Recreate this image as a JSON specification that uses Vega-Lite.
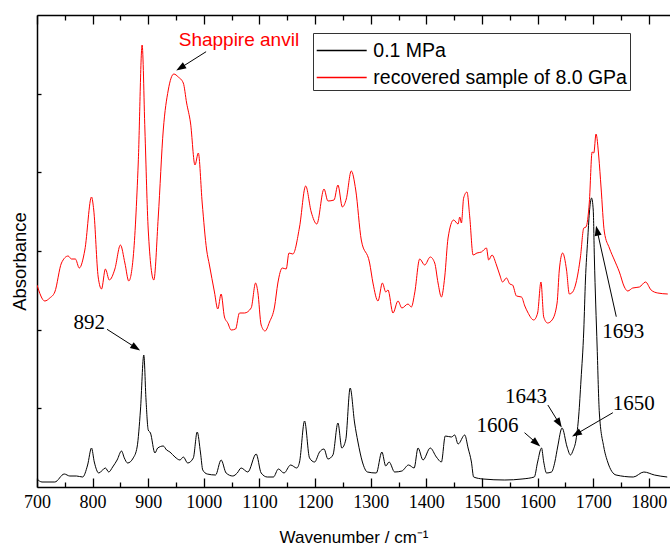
{
  "$schema": "https://vega.github.io/schema/vega-lite/v6.json",
  "width": 633,
  "height": 472,
  "autosize": {"type": "none"},
  "padding": {"left": 37, "top": 15, "right": 0, "bottom": 59},
  "background": "white",
  "config": {
    "view": {"stroke": null},
    "axis": {"grid": false, "domainColor": "black", "tickColor": "black", "domainWidth": 1.5, "tickWidth": 1.3}
  },
  "datasets": {
    "spectra": [
      {"series": "0.1 MPa", "wn": 700, "absorbance": 0.08},
      {"series": "0.1 MPa", "wn": 709, "absorbance": 0.05},
      {"series": "0.1 MPa", "wn": 732, "absorbance": 0.05},
      {"series": "0.1 MPa", "wn": 749, "absorbance": 0.13},
      {"series": "0.1 MPa", "wn": 759, "absorbance": 0.11},
      {"series": "0.1 MPa", "wn": 771, "absorbance": 0.11},
      {"series": "0.1 MPa", "wn": 782, "absorbance": 0.10},
      {"series": "0.1 MPa", "wn": 791, "absorbance": 0.22},
      {"series": "0.1 MPa", "wn": 798, "absorbance": 0.39},
      {"series": "0.1 MPa", "wn": 803, "absorbance": 0.25},
      {"series": "0.1 MPa", "wn": 811, "absorbance": 0.14},
      {"series": "0.1 MPa", "wn": 823, "absorbance": 0.19},
      {"series": "0.1 MPa", "wn": 829, "absorbance": 0.15},
      {"series": "0.1 MPa", "wn": 836, "absorbance": 0.20},
      {"series": "0.1 MPa", "wn": 844, "absorbance": 0.27},
      {"series": "0.1 MPa", "wn": 852, "absorbance": 0.36},
      {"series": "0.1 MPa", "wn": 857, "absorbance": 0.29},
      {"series": "0.1 MPa", "wn": 863, "absorbance": 0.24},
      {"series": "0.1 MPa", "wn": 873, "absorbance": 0.29},
      {"series": "0.1 MPa", "wn": 880, "absorbance": 0.40},
      {"series": "0.1 MPa", "wn": 886, "absorbance": 0.77},
      {"series": "0.1 MPa", "wn": 892, "absorbance": 1.32},
      {"series": "0.1 MPa", "wn": 896, "absorbance": 0.87},
      {"series": "0.1 MPa", "wn": 900, "absorbance": 0.57},
      {"series": "0.1 MPa", "wn": 904, "absorbance": 0.54},
      {"series": "0.1 MPa", "wn": 912, "absorbance": 0.34},
      {"series": "0.1 MPa", "wn": 917, "absorbance": 0.39},
      {"series": "0.1 MPa", "wn": 927, "absorbance": 0.41},
      {"series": "0.1 MPa", "wn": 933, "absorbance": 0.37},
      {"series": "0.1 MPa", "wn": 939, "absorbance": 0.35},
      {"series": "0.1 MPa", "wn": 948, "absorbance": 0.30},
      {"series": "0.1 MPa", "wn": 957, "absorbance": 0.27},
      {"series": "0.1 MPa", "wn": 963, "absorbance": 0.30},
      {"series": "0.1 MPa", "wn": 971, "absorbance": 0.24},
      {"series": "0.1 MPa", "wn": 981, "absorbance": 0.29},
      {"series": "0.1 MPa", "wn": 988, "absorbance": 0.55},
      {"series": "0.1 MPa", "wn": 994, "absorbance": 0.34},
      {"series": "0.1 MPa", "wn": 998, "absorbance": 0.17},
      {"series": "0.1 MPa", "wn": 1006, "absorbance": 0.13},
      {"series": "0.1 MPa", "wn": 1021, "absorbance": 0.12},
      {"series": "0.1 MPa", "wn": 1031, "absorbance": 0.27},
      {"series": "0.1 MPa", "wn": 1040, "absorbance": 0.14},
      {"series": "0.1 MPa", "wn": 1052, "absorbance": 0.11},
      {"series": "0.1 MPa", "wn": 1060, "absorbance": 0.14},
      {"series": "0.1 MPa", "wn": 1067, "absorbance": 0.19},
      {"series": "0.1 MPa", "wn": 1079, "absorbance": 0.15},
      {"series": "0.1 MPa", "wn": 1094, "absorbance": 0.33},
      {"series": "0.1 MPa", "wn": 1103, "absorbance": 0.14},
      {"series": "0.1 MPa", "wn": 1114, "absorbance": 0.10},
      {"series": "0.1 MPa", "wn": 1125, "absorbance": 0.10},
      {"series": "0.1 MPa", "wn": 1134, "absorbance": 0.18},
      {"series": "0.1 MPa", "wn": 1144, "absorbance": 0.14},
      {"series": "0.1 MPa", "wn": 1156, "absorbance": 0.22},
      {"series": "0.1 MPa", "wn": 1167, "absorbance": 0.19},
      {"series": "0.1 MPa", "wn": 1172, "absorbance": 0.25},
      {"series": "0.1 MPa", "wn": 1181, "absorbance": 0.66},
      {"series": "0.1 MPa", "wn": 1190, "absorbance": 0.29},
      {"series": "0.1 MPa", "wn": 1199, "absorbance": 0.25},
      {"series": "0.1 MPa", "wn": 1208, "absorbance": 0.35},
      {"series": "0.1 MPa", "wn": 1216, "absorbance": 0.38},
      {"series": "0.1 MPa", "wn": 1223, "absorbance": 0.28},
      {"series": "0.1 MPa", "wn": 1232, "absorbance": 0.32},
      {"series": "0.1 MPa", "wn": 1241, "absorbance": 0.64},
      {"series": "0.1 MPa", "wn": 1248, "absorbance": 0.39},
      {"series": "0.1 MPa", "wn": 1255, "absorbance": 0.47},
      {"series": "0.1 MPa", "wn": 1263, "absorbance": 0.99},
      {"series": "0.1 MPa", "wn": 1271, "absorbance": 0.64},
      {"series": "0.1 MPa", "wn": 1277, "absorbance": 0.45},
      {"series": "0.1 MPa", "wn": 1285, "absorbance": 0.25},
      {"series": "0.1 MPa", "wn": 1294, "absorbance": 0.15},
      {"series": "0.1 MPa", "wn": 1310, "absorbance": 0.14},
      {"series": "0.1 MPa", "wn": 1320, "absorbance": 0.35},
      {"series": "0.1 MPa", "wn": 1327, "absorbance": 0.21},
      {"series": "0.1 MPa", "wn": 1333, "absorbance": 0.25},
      {"series": "0.1 MPa", "wn": 1343, "absorbance": 0.15},
      {"series": "0.1 MPa", "wn": 1356, "absorbance": 0.16},
      {"series": "0.1 MPa", "wn": 1368, "absorbance": 0.22},
      {"series": "0.1 MPa", "wn": 1378, "absorbance": 0.19},
      {"series": "0.1 MPa", "wn": 1385, "absorbance": 0.39},
      {"series": "0.1 MPa", "wn": 1394, "absorbance": 0.27},
      {"series": "0.1 MPa", "wn": 1407, "absorbance": 0.39},
      {"series": "0.1 MPa", "wn": 1418, "absorbance": 0.30},
      {"series": "0.1 MPa", "wn": 1427, "absorbance": 0.25},
      {"series": "0.1 MPa", "wn": 1434, "absorbance": 0.51},
      {"series": "0.1 MPa", "wn": 1445, "absorbance": 0.50},
      {"series": "0.1 MPa", "wn": 1451, "absorbance": 0.52},
      {"series": "0.1 MPa", "wn": 1457, "absorbance": 0.43},
      {"series": "0.1 MPa", "wn": 1469, "absorbance": 0.52},
      {"series": "0.1 MPa", "wn": 1475, "absorbance": 0.39},
      {"series": "0.1 MPa", "wn": 1481, "absorbance": 0.25},
      {"series": "0.1 MPa", "wn": 1485, "absorbance": 0.10},
      {"series": "0.1 MPa", "wn": 1502, "absorbance": 0.08},
      {"series": "0.1 MPa", "wn": 1541, "absorbance": 0.07},
      {"series": "0.1 MPa", "wn": 1572, "absorbance": 0.08},
      {"series": "0.1 MPa", "wn": 1594, "absorbance": 0.10},
      {"series": "0.1 MPa", "wn": 1600, "absorbance": 0.25},
      {"series": "0.1 MPa", "wn": 1607, "absorbance": 0.39},
      {"series": "0.1 MPa", "wn": 1611, "absorbance": 0.25},
      {"series": "0.1 MPa", "wn": 1616, "absorbance": 0.14},
      {"series": "0.1 MPa", "wn": 1625, "absorbance": 0.15},
      {"series": "0.1 MPa", "wn": 1631, "absorbance": 0.25},
      {"series": "0.1 MPa", "wn": 1636, "absorbance": 0.40},
      {"series": "0.1 MPa", "wn": 1644, "absorbance": 0.59},
      {"series": "0.1 MPa", "wn": 1653, "absorbance": 0.40},
      {"series": "0.1 MPa", "wn": 1659, "absorbance": 0.32},
      {"series": "0.1 MPa", "wn": 1664, "absorbance": 0.37},
      {"series": "0.1 MPa", "wn": 1669, "absorbance": 0.47},
      {"series": "0.1 MPa", "wn": 1674, "absorbance": 0.72},
      {"series": "0.1 MPa", "wn": 1678, "absorbance": 1.07},
      {"series": "0.1 MPa", "wn": 1683, "absorbance": 1.57},
      {"series": "0.1 MPa", "wn": 1686, "absorbance": 2.07},
      {"series": "0.1 MPa", "wn": 1690, "absorbance": 2.47},
      {"series": "0.1 MPa", "wn": 1693, "absorbance": 2.74},
      {"series": "0.1 MPa", "wn": 1697, "absorbance": 2.89},
      {"series": "0.1 MPa", "wn": 1700, "absorbance": 2.77},
      {"series": "0.1 MPa", "wn": 1702, "absorbance": 2.30},
      {"series": "0.1 MPa", "wn": 1707, "absorbance": 1.40},
      {"series": "0.1 MPa", "wn": 1711, "absorbance": 0.74},
      {"series": "0.1 MPa", "wn": 1719, "absorbance": 0.40},
      {"series": "0.1 MPa", "wn": 1726, "absorbance": 0.25},
      {"series": "0.1 MPa", "wn": 1741, "absorbance": 0.12},
      {"series": "0.1 MPa", "wn": 1772, "absorbance": 0.10},
      {"series": "0.1 MPa", "wn": 1791, "absorbance": 0.15},
      {"series": "0.1 MPa", "wn": 1810, "absorbance": 0.12},
      {"series": "0.1 MPa", "wn": 1833, "absorbance": 0.10},
      {"series": "recovered sample of 8.0 GPa", "wn": 700, "absorbance": 2.02},
      {"series": "recovered sample of 8.0 GPa", "wn": 714, "absorbance": 1.86},
      {"series": "recovered sample of 8.0 GPa", "wn": 723, "absorbance": 1.89},
      {"series": "recovered sample of 8.0 GPa", "wn": 732, "absorbance": 1.95},
      {"series": "recovered sample of 8.0 GPa", "wn": 744, "absorbance": 2.24},
      {"series": "recovered sample of 8.0 GPa", "wn": 756, "absorbance": 2.31},
      {"series": "recovered sample of 8.0 GPa", "wn": 762, "absorbance": 2.28},
      {"series": "recovered sample of 8.0 GPa", "wn": 769, "absorbance": 2.28},
      {"series": "recovered sample of 8.0 GPa", "wn": 776, "absorbance": 2.19},
      {"series": "recovered sample of 8.0 GPa", "wn": 786, "absorbance": 2.37},
      {"series": "recovered sample of 8.0 GPa", "wn": 798, "absorbance": 2.90},
      {"series": "recovered sample of 8.0 GPa", "wn": 802, "absorbance": 2.77},
      {"series": "recovered sample of 8.0 GPa", "wn": 810, "absorbance": 2.10},
      {"series": "recovered sample of 8.0 GPa", "wn": 816, "absorbance": 1.98},
      {"series": "recovered sample of 8.0 GPa", "wn": 823, "absorbance": 2.18},
      {"series": "recovered sample of 8.0 GPa", "wn": 830, "absorbance": 2.07},
      {"series": "recovered sample of 8.0 GPa", "wn": 840, "absorbance": 2.18},
      {"series": "recovered sample of 8.0 GPa", "wn": 850, "absorbance": 2.42},
      {"series": "recovered sample of 8.0 GPa", "wn": 858, "absorbance": 2.24},
      {"series": "recovered sample of 8.0 GPa", "wn": 865, "absorbance": 2.06},
      {"series": "recovered sample of 8.0 GPa", "wn": 873, "absorbance": 2.30},
      {"series": "recovered sample of 8.0 GPa", "wn": 882, "absorbance": 3.24},
      {"series": "recovered sample of 8.0 GPa", "wn": 889, "absorbance": 4.42},
      {"series": "recovered sample of 8.0 GPa", "wn": 894, "absorbance": 3.57},
      {"series": "recovered sample of 8.0 GPa", "wn": 900, "absorbance": 2.57},
      {"series": "recovered sample of 8.0 GPa", "wn": 910, "absorbance": 2.07},
      {"series": "recovered sample of 8.0 GPa", "wn": 918, "absorbance": 2.70},
      {"series": "recovered sample of 8.0 GPa", "wn": 927, "absorbance": 3.57},
      {"series": "recovered sample of 8.0 GPa", "wn": 936, "absorbance": 3.97},
      {"series": "recovered sample of 8.0 GPa", "wn": 946, "absorbance": 4.13},
      {"series": "recovered sample of 8.0 GPa", "wn": 954, "absorbance": 4.10},
      {"series": "recovered sample of 8.0 GPa", "wn": 963, "absorbance": 4.04},
      {"series": "recovered sample of 8.0 GPa", "wn": 969, "absorbance": 3.84},
      {"series": "recovered sample of 8.0 GPa", "wn": 976, "absorbance": 3.64},
      {"series": "recovered sample of 8.0 GPa", "wn": 984, "absorbance": 3.22},
      {"series": "recovered sample of 8.0 GPa", "wn": 990, "absorbance": 3.34},
      {"series": "recovered sample of 8.0 GPa", "wn": 997, "absorbance": 2.84},
      {"series": "recovered sample of 8.0 GPa", "wn": 1005, "absorbance": 2.37},
      {"series": "recovered sample of 8.0 GPa", "wn": 1010, "absorbance": 2.22},
      {"series": "recovered sample of 8.0 GPa", "wn": 1019, "absorbance": 1.95},
      {"series": "recovered sample of 8.0 GPa", "wn": 1025, "absorbance": 1.78},
      {"series": "recovered sample of 8.0 GPa", "wn": 1031, "absorbance": 1.93},
      {"series": "recovered sample of 8.0 GPa", "wn": 1037, "absorbance": 1.70},
      {"series": "recovered sample of 8.0 GPa", "wn": 1043, "absorbance": 1.64},
      {"series": "recovered sample of 8.0 GPa", "wn": 1049, "absorbance": 1.57},
      {"series": "recovered sample of 8.0 GPa", "wn": 1057, "absorbance": 1.58},
      {"series": "recovered sample of 8.0 GPa", "wn": 1064, "absorbance": 1.74},
      {"series": "recovered sample of 8.0 GPa", "wn": 1073, "absorbance": 1.74},
      {"series": "recovered sample of 8.0 GPa", "wn": 1085, "absorbance": 1.79},
      {"series": "recovered sample of 8.0 GPa", "wn": 1093, "absorbance": 2.04},
      {"series": "recovered sample of 8.0 GPa", "wn": 1097, "absorbance": 1.95},
      {"series": "recovered sample of 8.0 GPa", "wn": 1103, "absorbance": 1.62},
      {"series": "recovered sample of 8.0 GPa", "wn": 1110, "absorbance": 1.56},
      {"series": "recovered sample of 8.0 GPa", "wn": 1118, "absorbance": 1.65},
      {"series": "recovered sample of 8.0 GPa", "wn": 1127, "absorbance": 1.80},
      {"series": "recovered sample of 8.0 GPa", "wn": 1133, "absorbance": 2.04},
      {"series": "recovered sample of 8.0 GPa", "wn": 1141, "absorbance": 2.19},
      {"series": "recovered sample of 8.0 GPa", "wn": 1148, "absorbance": 2.18},
      {"series": "recovered sample of 8.0 GPa", "wn": 1153, "absorbance": 2.34},
      {"series": "recovered sample of 8.0 GPa", "wn": 1160, "absorbance": 2.33},
      {"series": "recovered sample of 8.0 GPa", "wn": 1172, "absorbance": 2.60},
      {"series": "recovered sample of 8.0 GPa", "wn": 1183, "absorbance": 3.01},
      {"series": "recovered sample of 8.0 GPa", "wn": 1193, "absorbance": 2.75},
      {"series": "recovered sample of 8.0 GPa", "wn": 1203, "absorbance": 2.63},
      {"series": "recovered sample of 8.0 GPa", "wn": 1216, "absorbance": 2.98},
      {"series": "recovered sample of 8.0 GPa", "wn": 1223, "absorbance": 2.86},
      {"series": "recovered sample of 8.0 GPa", "wn": 1234, "absorbance": 2.87},
      {"series": "recovered sample of 8.0 GPa", "wn": 1241, "absorbance": 3.02},
      {"series": "recovered sample of 8.0 GPa", "wn": 1249, "absorbance": 2.80},
      {"series": "recovered sample of 8.0 GPa", "wn": 1256, "absorbance": 2.88},
      {"series": "recovered sample of 8.0 GPa", "wn": 1265, "absorbance": 3.16},
      {"series": "recovered sample of 8.0 GPa", "wn": 1273, "absorbance": 2.97},
      {"series": "recovered sample of 8.0 GPa", "wn": 1283, "absorbance": 2.47},
      {"series": "recovered sample of 8.0 GPa", "wn": 1298, "absorbance": 2.24},
      {"series": "recovered sample of 8.0 GPa", "wn": 1304, "absorbance": 2.04},
      {"series": "recovered sample of 8.0 GPa", "wn": 1313, "absorbance": 1.86},
      {"series": "recovered sample of 8.0 GPa", "wn": 1321, "absorbance": 2.04},
      {"series": "recovered sample of 8.0 GPa", "wn": 1327, "absorbance": 1.95},
      {"series": "recovered sample of 8.0 GPa", "wn": 1331, "absorbance": 1.97},
      {"series": "recovered sample of 8.0 GPa", "wn": 1340, "absorbance": 1.74},
      {"series": "recovered sample of 8.0 GPa", "wn": 1349, "absorbance": 1.86},
      {"series": "recovered sample of 8.0 GPa", "wn": 1356, "absorbance": 1.79},
      {"series": "recovered sample of 8.0 GPa", "wn": 1367, "absorbance": 1.83},
      {"series": "recovered sample of 8.0 GPa", "wn": 1373, "absorbance": 1.80},
      {"series": "recovered sample of 8.0 GPa", "wn": 1379, "absorbance": 1.94},
      {"series": "recovered sample of 8.0 GPa", "wn": 1388, "absorbance": 2.28},
      {"series": "recovered sample of 8.0 GPa", "wn": 1397, "absorbance": 2.22},
      {"series": "recovered sample of 8.0 GPa", "wn": 1407, "absorbance": 2.30},
      {"series": "recovered sample of 8.0 GPa", "wn": 1415, "absorbance": 2.24},
      {"series": "recovered sample of 8.0 GPa", "wn": 1421, "absorbance": 2.04},
      {"series": "recovered sample of 8.0 GPa", "wn": 1427, "absorbance": 1.90},
      {"series": "recovered sample of 8.0 GPa", "wn": 1433, "absorbance": 2.10},
      {"series": "recovered sample of 8.0 GPa", "wn": 1439, "absorbance": 2.49},
      {"series": "recovered sample of 8.0 GPa", "wn": 1449, "absorbance": 2.67},
      {"series": "recovered sample of 8.0 GPa", "wn": 1457, "absorbance": 2.63},
      {"series": "recovered sample of 8.0 GPa", "wn": 1460, "absorbance": 2.70},
      {"series": "recovered sample of 8.0 GPa", "wn": 1463, "absorbance": 2.64},
      {"series": "recovered sample of 8.0 GPa", "wn": 1467, "absorbance": 2.89},
      {"series": "recovered sample of 8.0 GPa", "wn": 1473, "absorbance": 2.95},
      {"series": "recovered sample of 8.0 GPa", "wn": 1478, "absorbance": 2.70},
      {"series": "recovered sample of 8.0 GPa", "wn": 1484, "absorbance": 2.32},
      {"series": "recovered sample of 8.0 GPa", "wn": 1491, "absorbance": 2.34},
      {"series": "recovered sample of 8.0 GPa", "wn": 1499, "absorbance": 2.35},
      {"series": "recovered sample of 8.0 GPa", "wn": 1508, "absorbance": 2.39},
      {"series": "recovered sample of 8.0 GPa", "wn": 1512, "absorbance": 2.27},
      {"series": "recovered sample of 8.0 GPa", "wn": 1518, "absorbance": 2.32},
      {"series": "recovered sample of 8.0 GPa", "wn": 1526, "absorbance": 2.22},
      {"series": "recovered sample of 8.0 GPa", "wn": 1532, "absorbance": 2.12},
      {"series": "recovered sample of 8.0 GPa", "wn": 1537, "absorbance": 2.05},
      {"series": "recovered sample of 8.0 GPa", "wn": 1544, "absorbance": 2.09},
      {"series": "recovered sample of 8.0 GPa", "wn": 1550, "absorbance": 2.03},
      {"series": "recovered sample of 8.0 GPa", "wn": 1555, "absorbance": 2.02},
      {"series": "recovered sample of 8.0 GPa", "wn": 1562, "absorbance": 1.91},
      {"series": "recovered sample of 8.0 GPa", "wn": 1571, "absorbance": 1.90},
      {"series": "recovered sample of 8.0 GPa", "wn": 1577, "absorbance": 1.81},
      {"series": "recovered sample of 8.0 GPa", "wn": 1582, "absorbance": 1.75},
      {"series": "recovered sample of 8.0 GPa", "wn": 1593, "absorbance": 1.67},
      {"series": "recovered sample of 8.0 GPa", "wn": 1600, "absorbance": 1.74},
      {"series": "recovered sample of 8.0 GPa", "wn": 1606, "absorbance": 2.05},
      {"series": "recovered sample of 8.0 GPa", "wn": 1611, "absorbance": 1.70},
      {"series": "recovered sample of 8.0 GPa", "wn": 1618, "absorbance": 1.64},
      {"series": "recovered sample of 8.0 GPa", "wn": 1626, "absorbance": 1.67},
      {"series": "recovered sample of 8.0 GPa", "wn": 1635, "absorbance": 1.84},
      {"series": "recovered sample of 8.0 GPa", "wn": 1639, "absorbance": 2.17},
      {"series": "recovered sample of 8.0 GPa", "wn": 1645, "absorbance": 2.34},
      {"series": "recovered sample of 8.0 GPa", "wn": 1652, "absorbance": 2.17},
      {"series": "recovered sample of 8.0 GPa", "wn": 1657, "absorbance": 1.93},
      {"series": "recovered sample of 8.0 GPa", "wn": 1663, "absorbance": 1.95},
      {"series": "recovered sample of 8.0 GPa", "wn": 1669, "absorbance": 2.04},
      {"series": "recovered sample of 8.0 GPa", "wn": 1677, "absorbance": 2.30},
      {"series": "recovered sample of 8.0 GPa", "wn": 1683, "absorbance": 2.59},
      {"series": "recovered sample of 8.0 GPa", "wn": 1687, "absorbance": 2.60},
      {"series": "recovered sample of 8.0 GPa", "wn": 1693, "absorbance": 2.85},
      {"series": "recovered sample of 8.0 GPa", "wn": 1698, "absorbance": 3.35},
      {"series": "recovered sample of 8.0 GPa", "wn": 1701, "absorbance": 3.34},
      {"series": "recovered sample of 8.0 GPa", "wn": 1705, "absorbance": 3.53},
      {"series": "recovered sample of 8.0 GPa", "wn": 1710, "absorbance": 3.30},
      {"series": "recovered sample of 8.0 GPa", "wn": 1714, "absorbance": 3.00},
      {"series": "recovered sample of 8.0 GPa", "wn": 1720, "absorbance": 2.55},
      {"series": "recovered sample of 8.0 GPa", "wn": 1729, "absorbance": 2.39},
      {"series": "recovered sample of 8.0 GPa", "wn": 1738, "absorbance": 2.27},
      {"series": "recovered sample of 8.0 GPa", "wn": 1747, "absorbance": 2.15},
      {"series": "recovered sample of 8.0 GPa", "wn": 1756, "absorbance": 2.00},
      {"series": "recovered sample of 8.0 GPa", "wn": 1762, "absorbance": 1.96},
      {"series": "recovered sample of 8.0 GPa", "wn": 1771, "absorbance": 1.99},
      {"series": "recovered sample of 8.0 GPa", "wn": 1783, "absorbance": 2.00},
      {"series": "recovered sample of 8.0 GPa", "wn": 1794, "absorbance": 2.05},
      {"series": "recovered sample of 8.0 GPa", "wn": 1804, "absorbance": 1.97},
      {"series": "recovered sample of 8.0 GPa", "wn": 1816, "absorbance": 1.94},
      {"series": "recovered sample of 8.0 GPa", "wn": 1834, "absorbance": 1.93}
    ],
    "peaklabels": [
      {"wn": 794, "absorbance": 1.64, "text": "892"},
      {"wn": 1754, "absorbance": 1.553, "text": "1693"},
      {"wn": 1579, "absorbance": 0.897, "text": "1643"},
      {"wn": 1773, "absorbance": 0.83, "text": "1650"},
      {"wn": 1528, "absorbance": 0.613, "text": "1606"}
    ],
    "notes": [
      {"wn": 1063, "absorbance": 4.47, "text": "Shappire anvil"}
    ],
    "arrows": [
      {"wn": 1004, "absorbance": 4.353, "wn2": 957.9, "absorbance2": 4.191},
      {"wn": 825.9, "absorbance": 1.577, "wn2": 877.9, "absorbance2": 1.392},
      {"wn": 1741.4, "absorbance": 1.703, "wn2": 1707.0, "absorbance2": 2.564},
      {"wn": 1618.4, "absorbance": 0.82, "wn2": 1638.7, "absorbance2": 0.637},
      {"wn": 1735.3, "absorbance": 0.743, "wn2": 1669.6, "absorbance2": 0.53},
      {"wn": 1576.5, "absorbance": 0.543, "wn2": 1598.0, "absorbance2": 0.439}
    ]
  },
  "layer": [
    {
      "data": {"name": "spectra"},
      "mark": {"type": "line", "strokeWidth": 1, "interpolate": "monotone", "clip": true},
      "encoding": {
        "x": {
          "field": "wn", "type": "quantitative",
          "scale": {"domain": [700, 1838], "nice": false, "zero": false},
          "axis": {
            "orient": "bottom",
            "values": [700, 750, 800, 850, 900, 950, 1000, 1050, 1100, 1150, 1200, 1250, 1300, 1350, 1400, 1450, 1500, 1550, 1600, 1650, 1700, 1750, 1800],
            "format": "d",
            "labelExpr": "datum.value % 100 === 0 ? datum.label : ''",
            "tickSize": {"condition": {"test": "datum.value % 100 === 0", "value": -9}, "value": -5},
            "labelFont": "Liberation Serif", "labelFontSize": 18, "labelColor": "black",
            "labelPadding": 15, "labelOverlap": false, "labelFlush": false, "labelBound": false,
            "encode": {"labels": {"update": {"dy": {"value": 7}}}},
            "title": "Wavenumber / cm⁻¹", "titleFont": "Liberation Sans", "titleFontSize": 17,
            "titleFontWeight": "normal", "titleColor": "black", "titleY": 50, "titleBaseline": "middle"
          }
        },
        "y": {
          "field": "absorbance", "type": "quantitative",
          "scale": {"domain": [0, 4.72], "nice": false, "zero": false},
          "axis": {
            "orient": "left",
            "values": [0.789, 1.575, 2.361, 3.147, 3.934],
            "labels": false, "tickSize": -4,
            "title": "Absorbance", "titleFont": "Liberation Sans", "titleFontSize": 18.5,
            "titleFontWeight": "normal", "titleColor": "black",
            "titleX": -18, "titleY": 246, "titleAngle": 270, "titleAlign": "center", "titleBaseline": "middle"
          }
        },
        "color": {
          "field": "series", "type": "nominal",
          "scale": {"domain": ["0.1 MPa", "recovered sample of 8.0 GPa"], "range": ["#000000", "#ff0000"]},
          "legend": {
            "orient": "none", "legendX": 276, "legendY": 18, "title": null,
            "symbolType": "M-1.818,0H1.818", "symbolSize": 756, "symbolStrokeWidth": 1.3, "symbolOffset": 11.2,
            "labelFont": "Liberation Sans", "labelFontSize": 19.5, "labelColor": "black", "labelLimit": 500,
            "labelOffset": 17.1, "rowPadding": 3, "padding": 3,
            "strokeColor": "#333333", "fillColor": "white"
          }
        }
      }
    },
    {
      "data": {"name": "peaklabels"},
      "mark": {"type": "text", "font": "Liberation Serif", "fontSize": 21, "color": "black", "align": "center", "baseline": "middle"},
      "encoding": {
        "x": {
          "field": "wn", "type": "quantitative",
          "axis": {
            "orient": "top",
            "values": [700, 750, 800, 850, 900, 950, 1000, 1050, 1100, 1150, 1200, 1250, 1300, 1350, 1400, 1450, 1500, 1550, 1600, 1650, 1700, 1750, 1800],
            "labels": false, "title": null,
            "tickSize": {"condition": {"test": "datum.value % 100 === 0", "value": -9}, "value": -5}
          }
        },
        "y": {"field": "absorbance", "type": "quantitative"},
        "text": {"field": "text"}
      }
    },
    {
      "data": {"name": "notes"},
      "mark": {"type": "text", "font": "Liberation Sans", "fontSize": 19, "color": "#ff0000", "align": "center", "baseline": "middle"},
      "encoding": {
        "x": {"field": "wn", "type": "quantitative", "axis": null},
        "y": {"field": "absorbance", "type": "quantitative"},
        "text": {"field": "text"}
      }
    },
    {
      "data": {"name": "arrows"},
      "mark": {"type": "rule", "color": "black", "strokeWidth": 1},
      "encoding": {
        "x": {"field": "wn", "type": "quantitative", "axis": null},
        "y": {"field": "absorbance", "type": "quantitative"},
        "x2": {"field": "wn2"},
        "y2": {"field": "absorbance2"}
      }
    },
    {"data": {"values": [{}]}, "mark": {"type": "point", "shape": "M0,-1L0.7,1L-0.7,1Z", "filled": true, "color": "black", "size": 100, "opacity": 1, "angle": 238},
     "encoding": {"x": {"datum": 957.9, "type": "quantitative", "axis": null}, "y": {"datum": 4.191, "type": "quantitative"}}},
    {"data": {"values": [{}]}, "mark": {"type": "point", "shape": "M0,-1L0.7,1L-0.7,1Z", "filled": true, "color": "black", "size": 100, "opacity": 1, "angle": 123},
     "encoding": {"x": {"datum": 877.9, "type": "quantitative", "axis": null}, "y": {"datum": 1.392, "type": "quantitative"}}},
    {"data": {"values": [{}]}, "mark": {"type": "point", "shape": "M0,-1L0.7,1L-0.7,1Z", "filled": true, "color": "black", "size": 100, "opacity": 1, "angle": 348},
     "encoding": {"x": {"datum": 1707.0, "type": "quantitative", "axis": null}, "y": {"datum": 2.564, "type": "quantitative"}}},
    {"data": {"values": [{}]}, "mark": {"type": "point", "shape": "M0,-1L0.7,1L-0.7,1Z", "filled": true, "color": "black", "size": 100, "opacity": 1, "angle": 148},
     "encoding": {"x": {"datum": 1638.7, "type": "quantitative", "axis": null}, "y": {"datum": 0.637, "type": "quantitative"}}},
    {"data": {"values": [{}]}, "mark": {"type": "point", "shape": "M0,-1L0.7,1L-0.7,1Z", "filled": true, "color": "black", "size": 100, "opacity": 1, "angle": 240},
     "encoding": {"x": {"datum": 1669.6, "type": "quantitative", "axis": null}, "y": {"datum": 0.53, "type": "quantitative"}}},
    {"data": {"values": [{}]}, "mark": {"type": "point", "shape": "M0,-1L0.7,1L-0.7,1Z", "filled": true, "color": "black", "size": 100, "opacity": 1, "angle": 131},
     "encoding": {"x": {"datum": 1598.0, "type": "quantitative", "axis": null}, "y": {"datum": 0.439, "type": "quantitative"}}}
  ],
  "resolve": {"axis": {"x": "independent"}}
}
